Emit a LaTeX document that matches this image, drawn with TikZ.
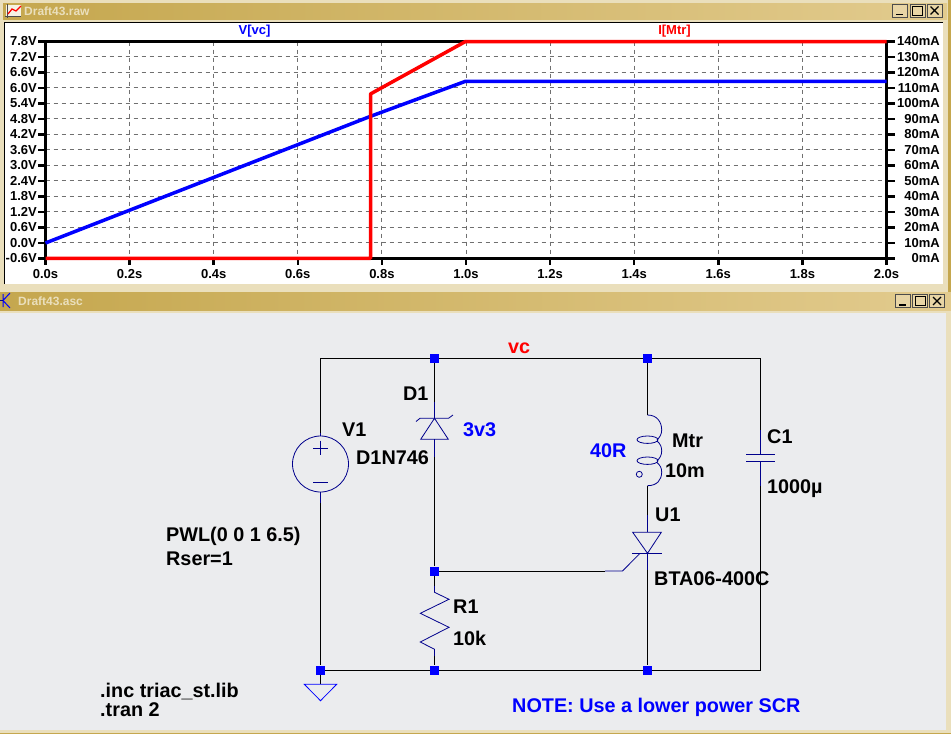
\documentclass[tikz,border=0pt]{standalone}
\usepackage{fontspec}
\setmainfont{Liberation Sans}
\definecolor{barl}{HTML}{C5A74E}
\definecolor{barr}{HTML}{E2CB8E}
\definecolor{cream}{HTML}{EADFBC}
\definecolor{panel}{HTML}{EBECEE}
\definecolor{compc}{HTML}{00008C}
\definecolor{gridc}{HTML}{707070}
\tikzset{
  wire/.style={draw=black,line width=1pt},
  comp/.style={draw=compc,line width=0.8pt},
  junc/.style={rectangle,fill=blue,inner sep=0pt,minimum size=9pt},
  lab/.style={anchor=base west,inner sep=0pt,font=\fontsize{19.8}{22}\selectfont\bfseries},
  axlab/.style={inner sep=0pt,font=\fontsize{13}{15}\selectfont\bfseries},
  wintitle/.style={anchor=base west,inner sep=0pt,text=cream,font=\fontsize{12}{14}\selectfont\bfseries},
  winbar/.style={left color=barl,right color=barr,draw=none},
  winbtn/.style={rectangle,fill=barr!80!white,draw=black!70,line width=0.6pt,inner sep=0pt,minimum width=15pt,minimum height=13pt},
  griddash/.style={draw=gridc,line width=1pt,dash pattern=on 4pt off 4pt},
  axline/.style={draw=black,line width=3.5pt},
  axtick/.style={draw=black,line width=2.5pt},
  trace/.style={line width=3.5pt,line join=round}
}
\begin{document}
\begin{tikzpicture}[x=1pt,y=-1pt]
\useasboundingbox (0,0) rectangle (951,734);

% window frames
\fill[cream] (0,0) rectangle (951,734);
\fill[barl] (947.5,0) rectangle (951,292);
\fill[winbar] (3,3) rectangle (947,19);
\fill[winbar] (0,292) rectangle (951,310);
\fill[white] (4,22) rectangle (943,284);
\draw[black,line width=1.2pt] (4.5,284) -- (4.5,22.5) -- (943,22.5);
\fill[panel] (0,313) rectangle (946,730);
\fill[barl] (0,732.5) rectangle (951,734);

\node[wintitle] (ttop) at (24,15) {Draft43.raw};
\node[wintitle] (tbot) at (18,305) {Draft43.asc};

% title bar icons
\fill[white!85!barl] (6,5) rectangle (21,17);
\draw[black!70,line width=0.7pt] (7,4) -- (7,18) (5,16) -- (21,16);
\draw[red,line width=1.2pt] (8,14) -- (12,9) -- (16,11) -- (21,6);
\draw[blue,line width=1pt] (3,294) -- (3,307) (3,300.5) -- (10,293) (3,300.5) -- (10,308);
\draw[compc,line width=1pt] (0,300.5) -- (3,300.5);

% buttons
\node[winbtn] (mintop) at (900,10.5) {};
\node[winbtn] (maxtop) at (917.5,10.5) {};
\node[winbtn] (clotop) at (934.5,10.5) {};
\node[winbtn] (minbot) at (903,301) {};
\node[winbtn] (maxbot) at (920,301) {};
\node[winbtn] (clobot) at (937,301) {};
\foreach \bx/\by in {900/10.5,903/301}
  \draw[black,line width=1.6pt] (\bx-4,\by+4) -- (\bx+3,\by+4);
\foreach \bx/\by in {917.5/10.5,920/301}
  \draw[black,line width=1pt] (\bx-5,\by-4.5) rectangle (\bx+5,\by+4.5);
\foreach \bx/\by in {934.5/10.5,937/301}
  \draw[black,line width=1.2pt] (\bx-4,\by-4) -- (\bx+4,\by+4) (\bx+4,\by-4) -- (\bx-4,\by+4);

% plot grid
\foreach \i in {1,...,13}
  \draw[griddash] (45.5,41.5+15.49*\i) -- (886.5,41.5+15.49*\i);
\foreach \i in {1,...,9}
  \draw[griddash] (45.5+84.1*\i,41.5) -- (45.5+84.1*\i,258.3);

% plot axes and labels
\draw[axline] (45.5,41.5) rectangle (886.5,258.3);
\foreach \lab [count=\i from 0] in {7.8,7.2,6.6,6.0,5.4,4.8,4.2,3.6,3.0,2.4,1.8,1.2,0.6,0.0,-0.6} {
  \draw[axtick] (38,41.5+15.49*\i) -- (45.5,41.5+15.49*\i);
  \node[axlab,anchor=east] (vl\i) at (37,41.5+15.49*\i) {\lab V};
}
\foreach \lab [count=\i from 0] in {140,130,120,110,100,90,80,70,60,50,40,30,20,10,0} {
  \draw[axtick] (886.5,41.5+15.49*\i) -- (895,41.5+15.49*\i);
  \node[axlab,anchor=east] (il\i) at (940,41.5+15.49*\i) {\lab mA};
}
\foreach \lab [count=\i from 0] in {0.0,0.2,0.4,0.6,0.8,1.0,1.2,1.4,1.6,1.8,2.0} {
  \draw[axtick] (45.5+84.1*\i,258.3) -- (45.5+84.1*\i,265);
  \node[axlab] (tl\i) at (45.5+84.1*\i,274.5) {\lab s};
}
\node[axlab,text=blue] (hvc) at (254.5,31.5) {V[vc]};
\node[axlab,text=red] (hmtr) at (674.5,31.5) {I[Mtr]};

% traces
\draw[trace,blue] (45.5,243) -- (370,116.5) -- (465.5,81.3) -- (886.5,81.3);
\draw[trace,red] (45.5,258.3) -- (370.5,258.3) -- (370.5,94) -- (374,92) -- (465.5,41.5) -- (886.5,41.5);

% circuit nodes
\node[junc] (jtopd) at (434.5,358) {};
\node[junc] (jtopu) at (647.5,358) {};
\node[junc] (jgate) at (434.5,571) {};
\node[junc] (jbotv) at (320.5,670) {};
\node[junc] (jbotr) at (434.5,670) {};
\node[junc] (jbotu) at (647.5,670) {};
\coordinate (ctl) at (320.5,358);
\coordinate (ctr) at (760.5,358);
\coordinate (cbr) at (760.5,670);
\coordinate (vtop) at (320.5,433);
\coordinate (vbot) at (320.5,503);
\coordinate (dtop) at (434.5,402);
\coordinate (dbot) at (434.5,457);
\coordinate (ltop) at (647.5,415);
\coordinate (lbot) at (647.5,485.7);
\coordinate (utop) at (647.5,515);
\coordinate (ubot) at (647.5,570);
\coordinate (ugl) at (605,571);
\coordinate (ctop) at (760.5,430);
\coordinate (cbot) at (760.5,486);
\coordinate (rtop) at (434.5,586);
\coordinate (rbot) at (434.5,656);
\coordinate (gnd) at (320.5,684.3);

% wires
\draw[wire] (jtopd) -- (ctl) -- (vtop);
\draw[wire] (vbot) -- (jbotv) -- (gnd);
\draw[wire] (jtopd) -- (jtopu) -- (ctr) -- (ctop);
\draw[wire] (cbot) -- (cbr) -- (jbotu) -- (jbotr) -- (jbotv);
\draw[wire] (jtopd) -- (dtop);
\draw[wire] (dbot) -- (jgate) -- (rtop);
\draw[wire] (rbot) -- (jbotr);
\draw[wire] (jtopu) -- (ltop);
\draw[wire] (lbot) -- (utop);
\draw[wire] (ubot) -- (jbotu);
\draw[wire] (jgate) -- (ugl);

% V1
\draw[comp] (320.5,464) circle (28pt);
\draw[comp] (vtop) -- (320.5,436) (320.5,492) -- (vbot);
\draw[comp] (313,448) -- (328,448) (320.5,440.5) -- (320.5,455) (313,482) -- (328,482);

% D1
\draw[comp] (dtop) -- (434.5,418.3) (434.5,439.3) -- (dbot);
\draw[comp] (416,421.5) -- (420,418.3) -- (448.5,418.3) -- (453,415);
\draw[comp] (434.5,418.3) -- (420.7,439.3) -- (448.3,439.3) -- cycle;

% Mtr
\draw[comp] (ltop) .. controls (657,415) and (661.7,422) .. (661.7,430) .. controls (661.7,434) and (660,437) .. (657,440);
\draw[comp] (657,441) .. controls (660.5,444) and (661.7,447) .. (661.7,451) .. controls (661.7,455) and (660,458) .. (657,461);
\draw[comp] (657,462.5) .. controls (660,465) and (661.7,468) .. (661.7,472) .. controls (661.7,480) and (657,485.7) .. (lbot);
\draw[comp] (647.5,439.7) ellipse (10.5pt and 3.7pt);
\draw[comp] (647.5,460.7) ellipse (10.5pt and 3.7pt);
\draw[comp] (639.3,474.3) circle (3pt);

% C1
\draw[comp] (ctop) -- (760.5,454.3) (760.5,461.3) -- (cbot);
\draw[comp] (746,454.3) -- (775,454.3) (746,461.3) -- (775,461.3);

% U1
\draw[comp] (utop) -- (647.5,532.3) (647.5,553.3) -- (ubot);
\draw[comp] (632.7,532.3) -- (661.3,532.3) -- (647.5,553.3) -- cycle;
\draw[comp] (632,553.3) -- (662,553.3);
\draw[comp] (ugl) -- (622.5,571) -- (640,553.3);

% R1
\draw[comp] (rtop) -- (434.5,592.3) -- (449,599.3) -- (420.3,613.3) -- (449,627.3) -- (420.3,642) -- (434.5,649.3) -- (rbot);

% ground
\draw[comp,draw=blue] (304.3,684.3) -- (336.7,684.3) -- (320.5,700.7) -- cycle;

% labels
\node[lab,text=red] (lvc) at (508,353.5) {vc};
\node[lab] (ld1) at (403,400) {D1};
\node[lab] (lv1) at (342,436) {V1};
\node[lab] (lpart) at (356,464) {D1N746};
\node[lab,text=blue] (l3v3) at (463,436) {3v3};
\node[lab,text=blue] (l40r) at (590,457) {40R};
\node[lab] (lmtr) at (672,447) {Mtr};
\node[lab] (l10m) at (665,477) {10m};
\node[lab] (lc1) at (767,443) {C1};
\node[lab] (l1000) at (767,493) {1000µ};
\node[lab] (lu1) at (655,521) {U1};
\node[lab] (lbta) at (654,585) {BTA06-400C};
\node[lab] (lr1) at (453,613) {R1};
\node[lab] (l10k) at (453,645) {10k};
\node[lab] (lpwl) at (166,541) {PWL(0 0 1 6.5)};
\node[lab] (lrser) at (166,565) {Rser=1};
\node[lab] (linc) at (100,697) {.inc triac\_st.lib};
\node[lab] (ltran) at (100,716.5) {.tran 2};
\node[lab,text=blue] (lnote) at (512,712) {NOTE: Use a lower power SCR};
\end{tikzpicture}
\end{document}
